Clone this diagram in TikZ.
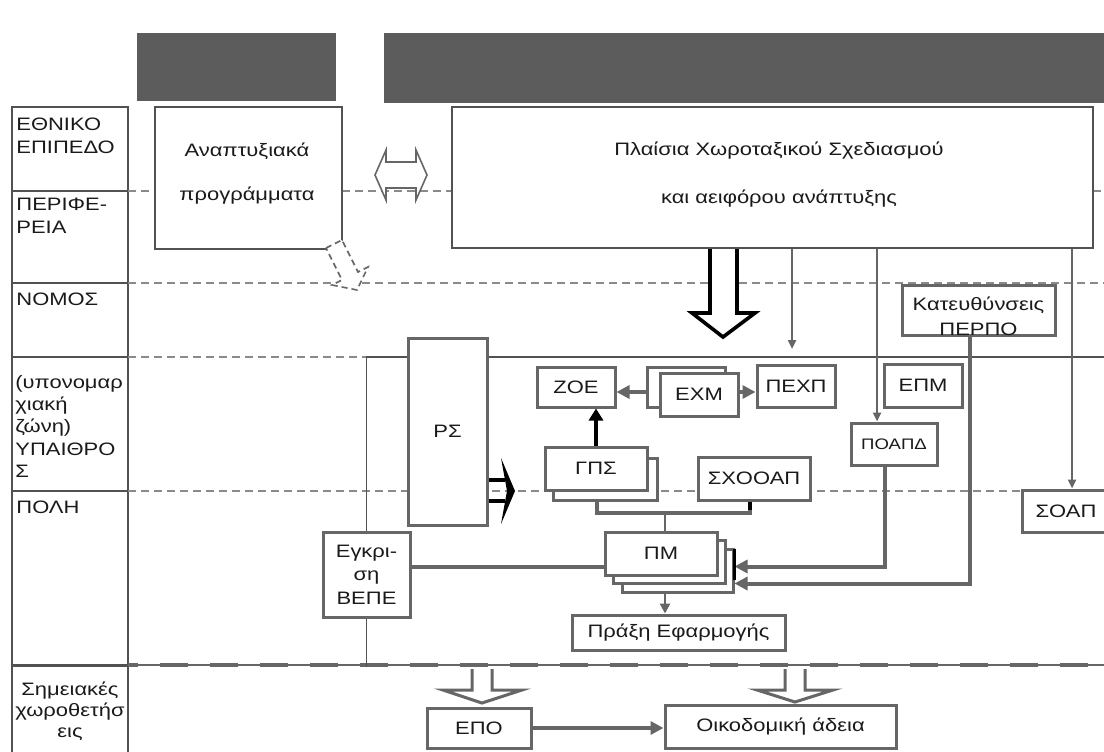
\documentclass[tikz,border=0pt]{standalone}
\usepackage{fontspec}
\setmainfont{Liberation Sans}[FakeStretch=1.22]
\usetikzlibrary{arrows.meta}
\definecolor{ink}{HTML}{1A1A1A}
\definecolor{edge}{HTML}{666666}
\definecolor{band}{HTML}{5C5C5C}
\definecolor{dashc}{HTML}{8A8A8A}
\begin{document}
\begin{tikzpicture}[x=0.5pt,y=-0.5pt,
  every node/.style={inner sep=0pt, text=ink},
  f/.style={font=\fontsize{9}{11.5}\selectfont},
  lbl/.style={f, align=left, anchor=north west},
  box/.style={draw=edge, line width=1.5pt, fill=white, f},
  frame/.style={draw=edge!80!black, line width=0.9pt},
  guide/.style={draw=dashc, line width=0.7pt, dash pattern=on 4pt off 2.5pt},
  gcon/.style={draw=edge, line width=2pt},
  gtip/.style={-{Triangle[length=6.5pt,width=6.5pt]}},
  thinarrow/.style={draw=edge, line width=1.2pt, -{Triangle[length=4.5pt,width=4pt]}},
  hollow/.style={draw=edge, line width=1.5pt, fill=white, line join=miter},
]
\useasboundingbox (0,0) rectangle (1104,751);

% heading bands
\fill[band] (137,33) rectangle (336,101);
\fill[band] (384,33) rectangle (1104,103);

% level column
\draw[frame] (12,107) rectangle (128,760);
\foreach \yy in {191,283,357,491} \draw[frame] (12,\yy) -- (128,\yy);
\draw[frame, line width=1.5pt] (12,665) -- (128,665);

% dashed level guides
\draw[guide] (128,191) -- (155,191);
\draw[guide] (342,191) -- (452,191);
\draw[guide] (1093,191) -- (1104,191);
\draw[guide] (128,283) -- (1104,283);
\draw[guide] (128,357) -- (367,357);
\draw[guide] (128,491) -- (1104,491);

% boundary between plan level and point decisions
\draw[edge, line width=0.6pt] (128,665) -- (1104,665);
\draw[edge, line width=2.3pt, dash pattern=on 14pt off 11pt, dash phase=9pt] (128,665) -- (1104,665);

% level labels
\node[lbl] (lvN) at (16,118) {ΕΘΝΙΚΟ\\ΕΠΙΠΕΔΟ};
\node[lbl] (lvP) at (16,198) {ΠΕΡΙΦΕ-\\ΡΕΙΑ};
\node[lbl] (lvNo) at (16,293) {ΝΟΜΟΣ};
\node[lbl, font=\fontsize{9}{11.1}\selectfont] (lvY) at (15,375) {(υπονομαρ\\χιακή\\ζώνη)\\ΥΠΑΙΘΡΟ\\Σ};
\node[lbl] (lvPo) at (16,501) {ΠΟΛΗ};
\node[align=center, anchor=north, font=\fontsize{9}{10.5}\selectfont] (lvS) at (70,682) {Σημειακές\\χωροθετήσ\\εις};

% upper framework boxes
\node[frame, fill=white, minimum width=93.5pt, minimum height=71pt] (anap) at (248.5,178) {};
\node[f, anchor=base] (anapA) at (247,156) {Αναπτυξιακά};
\node[f, anchor=base] (anapB) at (247,200) {προγράμματα};
\node[frame, fill=white, minimum width=320.5pt, minimum height=70.5pt] (plaisia) at (772.5,177.5) {};
\node[f, anchor=base] (plA) at (779,155) {Πλαίσια Χωροταξικού Σχεδιασμού};
\node[f, anchor=base] (plB) at (779,203) {και αειφόρου ανάπτυξης};

% two-way hollow arrow
\draw[edge, line width=0.8pt, fill=white, line join=miter]
  (375,175) -- (386,150) -- (386,162) -- (416,162) -- (416,150) -- (427,175)
  -- (416,200) -- (416,188) -- (386,188) -- (386,200) -- cycle;
% dashed hollow arrow
\draw[edge, line width=0.8pt, dash pattern=on 3pt off 2pt, fill=white, line join=miter]
  (326,248) -- (342,240) -- (358,272) -- (368,267) -- (357,290) -- (332,285) -- (342,280) -- cycle;

% big hollow arrow from the framework
\draw[black, line width=1.8pt, fill=white, line join=miter]
  (710,249) -- (710,313) -- (692,313) -- (723,337) -- (755,313) -- (737,313) -- (737,249);

% outline of the plan area
\draw[frame] (367,357) -- (1104,357);

% inner boxes
\node[box, minimum width=39.5pt, minimum height=93.5pt] (ps) at (447.5,431.5) {ΡΣ};
\node[box, minimum width=39pt, minimum height=20pt] (zoe) at (576,387) {ΖΟΕ};
\node[box, minimum width=39pt, minimum height=20pt] (exmb) at (686,387) {};
\node[box, minimum width=39pt, minimum height=21.5pt] (exmf) at (699,394.5) {ΕΧΜ};
\node[box, minimum width=39pt, minimum height=21pt] (pexp) at (796,386) {ΠΕΧΠ};
\node[box, minimum width=39pt, minimum height=21.5pt] (epm) at (923,385.5) {ΕΠΜ};
\node[box, minimum width=43pt, minimum height=21pt, font=\fontsize{7.6}{8}\selectfont] (poapd) at (894,444) {ΠΟΑΠΔ};
\node[box, minimum width=76.5pt, minimum height=25pt] (kat) at (978.5,310) {};
\node[align=center, anchor=north, font=\fontsize{9}{12.5}\selectfont] (katT) at (978.5,297) {Κατευθύνσεις\\ΠΕΡΠΟ};
\node[box, minimum width=44pt, minimum height=21pt] (soap) at (1066,511) {ΣΟΑΠ};
\node[box, minimum width=52pt, minimum height=21pt] (gpsb) at (605,479) {};
\node[box, minimum width=51pt, minimum height=21.5pt] (gpsf) at (596,468.5) {ΓΠΣ};
\node[box, minimum width=56pt, minimum height=21.5pt] (sxooap) at (754,478.5) {ΣΧΟΟΑΠ};
\node[box, minimum width=55.5pt, minimum height=21.5pt] (pm3) at (677.5,570.5) {};
\node[box, minimum width=56pt, minimum height=21.5pt] (pm2) at (669,561.5) {};
\node[box, minimum width=56pt, minimum height=21.5pt] (pm1) at (661,553.5) {ΠΜ};
\node[box, minimum width=43.5pt, minimum height=42.5pt, align=center, font=\fontsize{9}{11.75}\selectfont] (egk) at (366.5,574.5) {Εγκρι-\\ση\\ΒΕΠΕ};
\node[box, minimum width=106.5pt, minimum height=17.5pt] (praxi) at (678.5,632.5) {Πράξη Εφαρμογής};
\node[box, minimum width=52pt, minimum height=20pt] (epo) at (479,728) {ΕΠΟ};
\node[box, minimum width=115.5pt, minimum height=21.5pt] (oik) at (780.5,726.5) {Οικοδομική άδεια};

% left edge of the plan area
\draw[frame] (egk.north) -- ++(0,-175);
\draw[frame] (egk.south) -- ++(0,48);

% arrow out of ΡΣ
\draw[black, line width=2pt] (ps.east |- 0,480) -- (505,480);
\draw[black, line width=2pt] (ps.east |- 0,501) -- (505,501);
\fill[black] (501,458) -- (515,491) -- (501,524) -- (507,491) -- cycle;

% connectors
\coordinate (exmL) at ([yshift=-2.5pt]exmb.west);
\draw[gcon, gtip] (exmL) -- (exmL -| zoe.east);
\coordinate (exmR) at ([yshift=1.25pt]exmf.east);
\draw[gcon, gtip] (exmR) -- (exmR -| pexp.west);
\draw[black, line width=2.2pt, -{Triangle[length=6pt,width=7pt]}] (gpsf.north) -- (gpsf.north |- zoe.south);

\coordinate (pexpT) at (792,349);
\draw[thinarrow] (pexpT |- plaisia.south) -- (pexpT);
\coordinate (poapdT) at ([xshift=-8.5pt]poapd.north);
\draw[thinarrow] (poapdT |- plaisia.south) -- (poapdT);
\coordinate (soapT) at ([xshift=3pt]soap.north);
\draw[thinarrow] (soapT |- plaisia.south) -- (soapT);

\coordinate (poapdB) at ([xshift=-4.5pt]poapd.south);
\coordinate (pmA) at ([yshift=2pt]pm3.east);
\draw[gcon, gtip] (poapdB) |- (pmA);
\coordinate (katB) at ([xshift=-4.25pt]kat.south);
\coordinate (pmB) at ([yshift=-6.5pt]pm3.east);
\draw[gcon, gtip] (katB) |- (pmB);
\draw[black, line width=1.5pt] ([yshift=11pt]pm3.east) -- ([yshift=-4.5pt]pm3.east);

\coordinate (egkR) at ([yshift=3.75pt]egk.east);
\draw[gcon] (egkR) -- (egkR -| pm1.west);

\coordinate (gpsF) at ([xshift=-4pt]gpsb.south);
\coordinate (sxF) at ([xshift=-2pt]sxooap.south);
\coordinate (jn) at (665,513);
\draw[gcon] (gpsF) |- (jn) -| (sxF);
\draw[black, line width=2pt] (sxF) -- ++(0,8);
\draw[edge, line width=1.2pt] (jn) -- (jn |- pm1.north);
\draw[edge, line width=1.3pt, -{Triangle[length=5pt,width=5pt]}] (jn |- pm3.south) -- (jn |- praxi.north);

\draw[gcon, gtip] (epo.east) -- (epo.east -| oik.west);

% hollow arrows into the point decisions
\draw[hollow] (472,669) -- (472,690) -- (443,690) -- (482,703) -- (522,690) -- (492,690) -- (492,669);
\draw[hollow] (785,669) -- (785,690) -- (757,690) -- (795,702) -- (833,690) -- (805,690) -- (805,669);
\end{tikzpicture}
\end{document}
